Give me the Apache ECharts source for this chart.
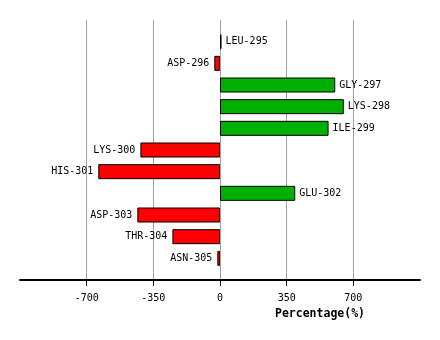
<!DOCTYPE html>
<html>
<head>
<meta charset="utf-8">
<script src="https://cdn.jsdelivr.net/npm/echarts@6/dist/echarts.min.js"></script>
<style>
  html, body { margin: 0; padding: 0; background: #fff; }
  #chart { width: 440px; height: 340px; }
</style>
</head>
<body>
<div id="chart"></div>
<script>
// Residues, top to bottom
const residues = ['LEU-295', 'ASP-296', 'GLY-297', 'LYS-298', 'ILE-299', 'LYS-300',
                  'HIS-301', 'GLU-302', 'ASP-303', 'THR-304', 'ASN-305'];
// Percentage change per residue
const percentages = [8, -30, 605, 650, 570, -418, -639, 395, -434, -250, -14];
// Tick labels shown on the value axis
const tickValues = [-700, -350, 0, 350, 700];

const POS_COLOR = '#00b000';
const NEG_COLOR = '#ff0000';
const FONT = '"DejaVu Sans Mono", "Liberation Mono", monospace';

// Empty slots at both ends keep half a row of space above and below the bars
const axisCategories = [''].concat(residues, ['']);
const barData = [null].concat(percentages.map(function (v, i) {
  return {
    value: v,
    itemStyle: { color: v >= 0 ? POS_COLOR : NEG_COLOR },
    label: { position: v >= 0 ? 'right' : 'left', distance: v >= 0 ? 4 : 5 }
  };
}), [null]);

const chart = echarts.init(document.getElementById('chart'), null, { renderer: 'canvas' });
chart.setOption({
  animation: false,
  backgroundColor: '#ffffff',
  grid: { left: 20, right: 20, top: 20, bottom: 60, containLabel: false },
  xAxis: {
    type: 'value',
    min: -1050,
    max: 1050,
    interval: 350,
    name: 'Percentage(%)',
    nameLocation: 'middle',
    nameGap: 28,
    nameTextStyle: {
      fontFamily: FONT, fontWeight: 'bold', fontSize: 11.5, color: '#000',
      padding: [0, 0, 0, 200]
    },
    axisLine: { show: true, onZero: false, lineStyle: { color: '#000', width: 2 } },
    axisTick: { show: true, length: 6, customValues: tickValues, lineStyle: { color: '#000', width: 1 } },
    axisLabel: {
      customValues: tickValues,
      fontFamily: FONT, fontSize: 10, color: '#000', margin: 13
    },
    splitLine: {
      show: true,
      lineStyle: { color: '#a0a0a0', width: 1 }
    }
  },
  yAxis: {
    type: 'category',
    data: axisCategories,
    inverse: true,
    boundaryGap: false,
    axisLine: { show: false },
    axisTick: { show: false },
    axisLabel: { show: false },
    splitLine: { show: false }
  },
  series: [{
    type: 'bar',
    data: barData,
    barWidth: 15,
    itemStyle: { borderColor: '#000', borderWidth: 1 },
    label: {
      show: true,
      fontFamily: FONT,
      fontSize: 10,
      color: '#000',
      formatter: function (p) { return axisCategories[p.dataIndex]; }
    }
  }]
});
</script>
</body>
</html>
